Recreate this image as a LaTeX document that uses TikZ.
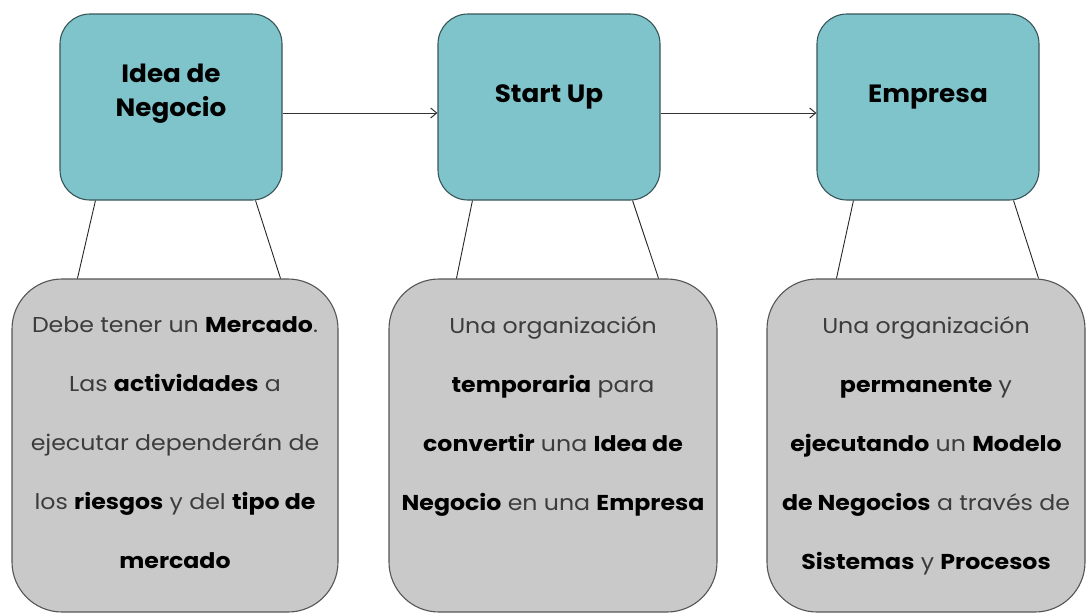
\documentclass[tikz,border=0pt]{standalone}
\usepackage{fontspec}
\setmainfont{Poppins}
\newfontfamily\descfont{Poppins}[FakeStretch=1.1]
\newfontfamily\headfont{Poppins}[FakeStretch=1.05]
\usetikzlibrary{arrows.meta}
\definecolor{tealfill}{RGB}{127,196,203}
\definecolor{tealdraw}{RGB}{55,85,88}
\definecolor{grayfill}{RGB}{201,201,201}
\definecolor{graydraw}{RGB}{85,85,85}
\definecolor{txtgray}{RGB}{60,60,60}
\tikzset{
  headbox/.style={draw=tealdraw, fill=tealfill, line width=1.1pt, rounded corners=30pt,
    minimum width=222pt, minimum height=186pt, inner sep=0pt},
  descbox/.style={draw=graydraw, fill=grayfill, line width=1.1pt, rounded corners=50pt,
    minimum height=333pt, inner sep=0pt},
  headtxt/.style={font=\headfont\fontsize{25}{34}\selectfont\bfseries, align=center, inner sep=0pt, text=black},
  desctxt/.style={font=\descfont\fontsize{21.5}{59}\selectfont, align=center, inner sep=0pt, text=txtgray, anchor=north},
  link/.style={draw=black!85, line width=0.9pt},
  flow/.style={draw=black!80, line width=1pt, -{Straight Barb[length=6pt,width=10pt]}}
}
\newcommand{\hb}[1]{\textbf{\color{black}#1}}
\begin{document}
\begin{tikzpicture}[x=1pt,y=-1pt]
\useasboundingbox (0,0) rectangle (1087,614);
% top boxes
\node[headbox] (b1) at (171,107) {};
\node[headbox] (b2) at (549,107) {};
\node[headbox] (b3) at (928,107) {};
\node[headtxt, anchor=north] (t1) at (171,64) {Idea de\\Negocio};
\node[headtxt, anchor=base] (t2) at (549,102) {Start Up};
\node[headtxt, anchor=base] (t3) at (928,102) {Empresa};
% bottom boxes
\node[descbox, minimum width=326pt] (g1) at (175,445.5) {};
\node[descbox, minimum width=328pt] (g2) at (553,445.5) {};
\node[descbox, minimum width=318pt] (g3) at (926,445.5) {};
\node[desctxt] (d1) at (175,316) {Debe tener un \hb{Mercado}.\\Las \hb{actividades} a\\ejecutar dependerán de\\los \hb{riesgos} y del \hb{tipo de}\\\hb{mercado}};
\node[desctxt] (d2) at (553,316) {Una organización\\\hb{temporaria} para\\\hb{convertir} una \hb{Idea de}\\\hb{Negocio} en una \hb{Empresa}};
\node[desctxt] (d3) at (926,316) {Una organización\\\hb{permanente} y\\\hb{ejecutando} un \hb{Modelo}\\\hb{de Negocios} a través de\\\hb{Sistemas} y \hb{Procesos}};
% flow arrows
\draw[flow] ([yshift=-6pt]b1.east) -- ([yshift=-6pt]b2.west);
\draw[flow] ([yshift=-6pt]b2.east) -- ([yshift=-6pt]b3.west);
% links
\draw[link] ([xshift=36pt]b1.south west) -- ([xshift=66pt]g1.north west);
\draw[link] ([xshift=-27pt]b1.south east) -- ([xshift=-58pt]g1.north east);
\draw[link] ([xshift=35pt]b2.south west) -- ([xshift=68pt]g2.north west);
\draw[link] ([xshift=-28pt]b2.south east) -- ([xshift=-59pt]g2.north east);
\draw[link] ([xshift=37pt]b3.south west) -- ([xshift=70pt]g3.north west);
\draw[link] ([xshift=-26pt]b3.south east) -- ([xshift=-47pt]g3.north east);
\end{tikzpicture}
\end{document}
